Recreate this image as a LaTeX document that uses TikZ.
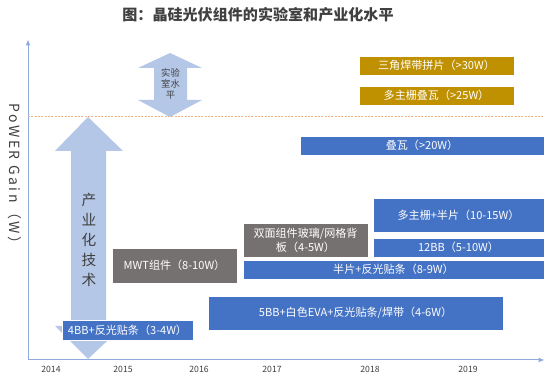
\documentclass[tikz,border=0pt]{standalone}
\usepackage{fontspec}
\setmainfont{Noto Sans CJK SC}
\newfontfamily\axisfont[LetterSpace=18]{Noto Sans CJK SC}
\usetikzlibrary{arrows.meta}
\definecolor{bblue}{HTML}{4472C4}
\definecolor{bgold}{HTML}{BF9000}
\definecolor{bgray}{HTML}{767171}
\definecolor{arrcol}{HTML}{B4C7E7}
\definecolor{axiscol}{HTML}{8FAADC}
\definecolor{dashcol}{HTML}{F4B183}
\definecolor{txt}{HTML}{404040}
\tikzset{
  bx/.style={draw=white, line width=0.5pt, text=white, inner sep=0pt, align=center,
    font=\fontsize{8.3}{10.5}\selectfont},
  bluebox/.style={bx, fill=bblue},
  goldbox/.style={bx, fill=bgold},
  greybox/.style={bx, fill=bgray},
  year/.style={text=txt, font=\fontsize{6.5}{7}\selectfont},
  bigarrow/.style={fill=arrcol, draw=none}
}
\begin{document}
\begin{tikzpicture}[x=0.75pt,y=-0.75pt]
\useasboundingbox (0,0) rectangle (553,384);
\fill[white] (0,0) rectangle (553,384);

% title
\node[text=txt, font=\fontsize{11.3}{12}\selectfont\bfseries] (title) at (258,15) {图：晶硅光伏组件的实验室和产业化水平};

% axes
\coordinate (o) at (28,360);
\coordinate (ytop) at (28,40);
\coordinate (xend) at (544,360);
\draw[axiscol, line width=0.75pt, -{Triangle[length=4pt,width=3pt]}] (o) -- (ytop);
\draw[axiscol, line width=0.75pt, -{Triangle[length=4pt,width=3pt]}] (o) -- (xend);

% dashed lab line
\coordinate (d1) at (28,116);
\coordinate (d2) at (543,116);
\draw[dashcol, line width=0.6pt, dash pattern=on 1.5pt off 1pt] (d1) -- (d2);

% y label
\node[rotate=-90, text=txt, font=\axisfont\fontsize{10.5}{12}\selectfont] (ylab) at (15,177) {PoWER Gain（W）};

% years
\node[year] (y14) at (51,369) {2014};
\node[year] (y15) at (123,369) {2015};
\node[year] (y16) at (199,369) {2016};
\node[year] (y17) at (272,369) {2017};
\node[year] (y18) at (370,369) {2018};
\node[year] (y19) at (468,369) {2019};

% lab arrow
\fill[bigarrow] (170,53) -- (202,68) -- (187,68) -- (187,100) -- (202,100) -- (170,117)
  -- (138,100) -- (154,100) -- (154,68) -- (138,68) -- cycle;
\node[text=txt, align=center, font=\fontsize{7}{8}\selectfont] (lab) at (170.5,84) {实验\\室水\\平};

% industrial arrow
\fill[bigarrow] (88,117) -- (123,151) -- (106,151) -- (106,326) -- (123,326) -- (88,359)
  -- (55,326) -- (71,326) -- (71,151) -- (55,151) -- cycle;
\node[text=txt, align=center, font=\fontsize{11}{15}\selectfont] (ind) at (89,240) {产\\业\\化\\技\\术};

% boxes
\node[goldbox, minimum width=116.25pt, minimum height=14.25pt] (b1) at (436.5,65.5) {三角焊带拼片（>30W）};
\node[goldbox, minimum width=116.25pt, minimum height=14.25pt] (b2) at (436.5,95.5) {多主栅叠瓦（>25W）};
\node[bluebox, minimum width=183pt, minimum height=14.25pt] (b3) at (422,145.5) {叠瓦（>20W）};
\node[bluebox, minimum width=128.25pt, minimum height=25.5pt] (b4) at (458.5,215) {多主栅+半片（10-15W）};
\node[bluebox, minimum width=128.25pt, minimum height=14.25pt] (b5) at (458.5,247.5) {12BB（5-10W）};
\node[greybox, minimum width=93.75pt, minimum height=25.5pt] (b6) at (305.5,240) {双面组件玻璃/网格背\\板（4-5W）};
\node[bluebox, minimum width=225.75pt, minimum height=14.25pt] (b7) at (393.5,269.5) {半片+反光贴条（8-9W）};
\node[greybox, minimum width=93.75pt, minimum height=26.25pt] (b8) at (174.5,265.5) {MWT组件（8-10W）};
\node[bluebox, minimum width=221.25pt, minimum height=25.5pt] (b9) at (355.5,313) {5BB+白色EVA+反光贴条/焊带（4-6W）};
\node[bluebox, minimum width=98.25pt, minimum height=15pt] (b10) at (127.5,330) {4BB+反光贴条（3-4W）};
\end{tikzpicture}
\end{document}
